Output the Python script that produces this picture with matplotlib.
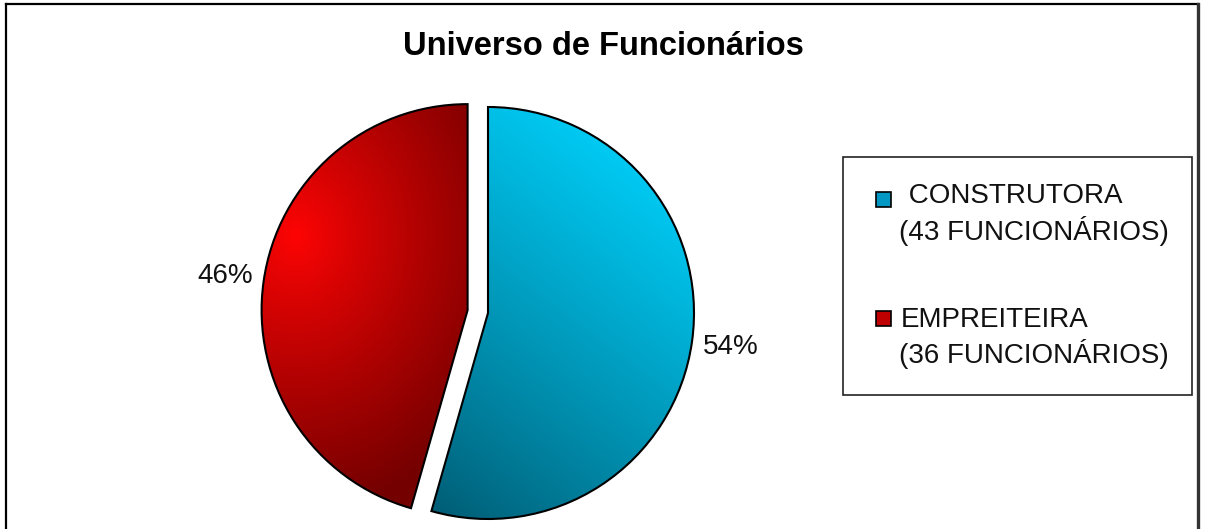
import numpy as np
import matplotlib
matplotlib.use('Agg')
import matplotlib.pyplot as plt
from matplotlib.patches import Rectangle
from matplotlib.lines import Line2D
from matplotlib.colors import to_rgb

# ---- data ----
categories = ['CONSTRUTORA', 'EMPREITEIRA']
counts = [43, 36]
explode = [0.0, 0.1]
legend_first_lines = [' CONSTRUTORA', 'EMPREITEIRA']
title = 'Universo de Funcionários'

FONT = ['Liberation Sans', 'DejaVu Sans']
W, H = 1205, 529
fig = plt.figure(figsize=(W / 100, H / 100), dpi=100)
fig.patch.set_facecolor('white')

# pie geometry (pixels, y down)
R = 206.0
cx, cy = 488.0, 313.0

ax = fig.add_axes([0, 0, 1, 1])
wedges, texts, autotexts = ax.pie(
    counts, startangle=90, counterclock=False, explode=explode,
    radius=1, center=(0, 0), autopct='%1.0f%%', pctdistance=1.19,
    wedgeprops=dict(edgecolor='black', linewidth=1.5),
    textprops=dict(fontsize=20, family=FONT, color='#111111'))


def lerp(c0, c1, t):
    c0 = np.array(to_rgb(c0)); c1 = np.array(to_rgb(c1))
    t = np.clip(t, 0, 1)[..., None]
    return c0 * (1 - t) + c1 * t


def grad_image(kind, wcx_px, wcy_px):
    x0, x1 = wcx_px - R - 2, wcx_px + R + 2
    y0, y1 = wcy_px - R - 2, wcy_px + R + 2
    xs = np.arange(x0, x1)
    ys = np.arange(y0, y1)
    X, Y = np.meshgrid(xs, ys)
    if kind == 'blue':
        p = 0.6 * X - 0.8 * Y
        t = (p - (-150)) / (245 - (-150))
        t = np.clip(t, 0, 1)
        img = lerp('#005C74', '#00C9F2', t ** 0.9)
    else:
        d = np.hypot((X - 295) * 1.0, (Y - 235) * 0.85)
        t = np.clip(d / 235.0, 0, 1)
        img = lerp('#FF0404', '#740000', t ** 0.9)
    ext = [(x0 - cx) / R, (x1 - cx) / R, (cy - y1) / R, (cy - y0) / R]
    return img, ext


kinds = ['blue', 'red']
for w, kind in zip(wedges, kinds):
    wx, wy = w.center
    wcx_px = cx + wx * R
    wcy_px = cy - wy * R
    img, ext = grad_image(kind, wcx_px, wcy_px)
    im = ax.imshow(img, extent=ext, origin='upper', interpolation='bilinear',
                   zorder=0.5)
    im.set_clip_path(w)
    w.set_facecolor('none')
    w.set_zorder(1)

ax.set_xlim(-cx / R, (W - cx) / R)
ax.set_ylim(-(H - cy) / R, cy / R)
ax.set_aspect('auto')
ax.axis('off')

# ---- title ----
fig.text(603 / W, 1 - 55 / H, title, ha='center', va='baseline',
         fontsize=23.5, fontweight='bold', family=FONT)

# ---- legend (manual) ----
fig.add_artist(Rectangle((843 / W, 1 - 395 / H), (1192 - 843) / W, (395 - 157) / H,
                         transform=fig.transFigure, facecolor='white',
                         edgecolor='#222222', linewidth=1.2))
marker_colors = ['#0398C4', '#C00000']
marker_y = [199, 318]
line1_base = [203, 327]
line2_base = [240, 363]
for i, (cat, n) in enumerate(zip(legend_first_lines, counts)):
    s = 15
    fig.add_artist(Rectangle(((883 - s / 2) / W, 1 - (marker_y[i] + s / 2) / H),
                             s / W, s / H, transform=fig.transFigure,
                             facecolor=marker_colors[i], edgecolor='black',
                             linewidth=1.2))
    fig.text(901 / W, 1 - line1_base[i] / H, cat, ha='left', va='baseline',
             fontsize=20, family=FONT, color='#111111')
    fig.text(899 / W, 1 - line2_base[i] / H, f'({n} FUNCIONÁRIOS)', ha='left',
             va='baseline', fontsize=20, family=FONT, color='#111111')

# ---- outer border ----
fig.add_artist(Line2D([6 / W, 6 / W], [-0.1, 1 - 4 / H], transform=fig.transFigure,
                      color='black', linewidth=1.6))
fig.add_artist(Line2D([6 / W, 1198 / W], [1 - 4 / H, 1 - 4 / H], transform=fig.transFigure,
                      color='black', linewidth=1.6))
fig.add_artist(Line2D([1198 / W, 1198 / W], [-0.1, 1 - 4 / H], transform=fig.transFigure,
                      color='#333333', linewidth=2.4))

fig.savefig('out.png', dpi=100, facecolor='white')
